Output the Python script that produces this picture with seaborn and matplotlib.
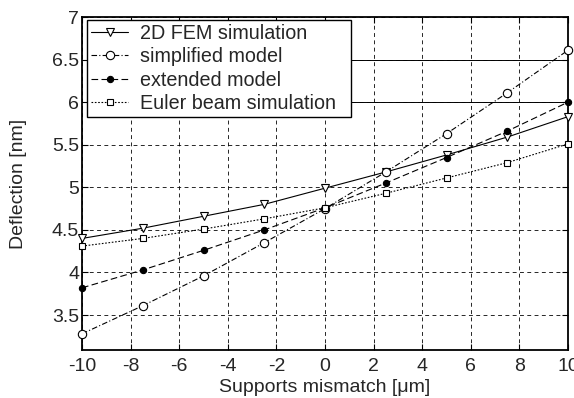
import numpy as np
import pandas as pd
import seaborn as sns
import matplotlib.pyplot as plt

# supports mismatch [um]
mismatch = [-10, -7.5, -5, -2.5, 0, 2.5, 5, 7.5, 10]

# deflection [nm]
fem_2d = [4.40, 4.52, 4.66, 4.80, 4.99, 5.18, 5.38, 5.59, 5.83]
simplified = [3.28, 3.61, 3.96, 4.35, 4.75, 5.18, 5.63, 6.11, 6.61]
extended = [3.82, 4.03, 4.26, 4.50, 4.76, 5.05, 5.35, 5.66, 6.00]
euler_beam = [4.31, 4.40, 4.51, 4.63, 4.76, 4.93, 5.11, 5.29, 5.51]

series_names = ['2D FEM simulation', 'simplified model', 'extended model',
                'Euler beam simulation']
x_ticks = [-10, -8, -6, -4, -2, 0, 2, 4, 6, 8, 10]
y_ticks = [3.5, 4, 4.5, 5, 5.5, 6, 6.5, 7]

sns.set_style('white')
plt.rcParams['font.family'] = ['Liberation Sans', 'DejaVu Sans']
plt.rcParams['font.size'] = 14

fig = plt.figure(figsize=(5.74, 3.98), dpi=100)
ax = fig.add_axes([82 / 574, 48 / 398, 486 / 574, 333 / 398])

# line style, marker, marker face for each series
styles = [
    ('-', 'v', 'white'),
    ((0, (5, 2, 1, 2)), 'o', 'white'),
    ((0, (6, 3)), 'o', 'black'),
    ((0, (1.5, 1.5)), 's', 'white'),
]
sizes = [6, 6, 4.5, 5]

for name, vals, (ls, mk, mfc), ms in zip(series_names,
                                         [fem_2d, simplified, extended, euler_beam],
                                         styles, sizes):
    sns.lineplot(x=mismatch, y=vals, ax=ax, color='black', linewidth=0.8,
                 linestyle=ls, marker=mk, markersize=ms, markerfacecolor=mfc,
                 markeredgecolor='black', markeredgewidth=0.8, label=name,
                 zorder=3, clip_on=False)

ax.set_xlim(-10, 10)
ax.set_ylim(3.09, 7)
ax.set_xticks(x_ticks)
ax.set_yticks(y_ticks)
ax.set_xticklabels([str(t) for t in x_ticks])
ax.set_yticklabels(['3.5', '4', '4.5', '5', '5.5', '6', '6.5', '7'])

ax.grid(True, color='black', linestyle=(0, (4, 3.5)), linewidth=0.7, alpha=0.85)
# gridlines right of the legend are drawn solid in the original
for yv in [6, 6.5]:
    ax.axhline(yv, color='black', linewidth=0.7, zorder=1)

for sp in ax.spines.values():
    sp.set_color('black')
    sp.set_linewidth(1.3)

ax.tick_params(direction='in', length=4, width=0.8, top=True, right=True,
               bottom=True, left=True, color='black', labelsize=14)
ax.tick_params(axis='y', pad=2)
ax.tick_params(axis='x', pad=6)

ax.set_xlabel('Supports mismatch [\u03bcm]', fontsize=14, labelpad=3)
ax.set_ylabel('Deflection [nm]', fontsize=14)
ax.yaxis.set_label_coords(-0.113, 0.5)

leg = ax.legend(loc='upper left', bbox_to_anchor=(0.0103, 0.709, 0.543, 0.282),
                mode='expand', frameon=True, fancybox=False, edgecolor='black',
                framealpha=1, handlelength=1.9, handletextpad=0.6,
                borderpad=0.2, labelspacing=0.22, borderaxespad=0.0,
                fontsize=14.2)
leg.get_frame().set_linewidth(1.0)
leg.set_zorder(5)

fig.savefig('out.png', dpi=100)
